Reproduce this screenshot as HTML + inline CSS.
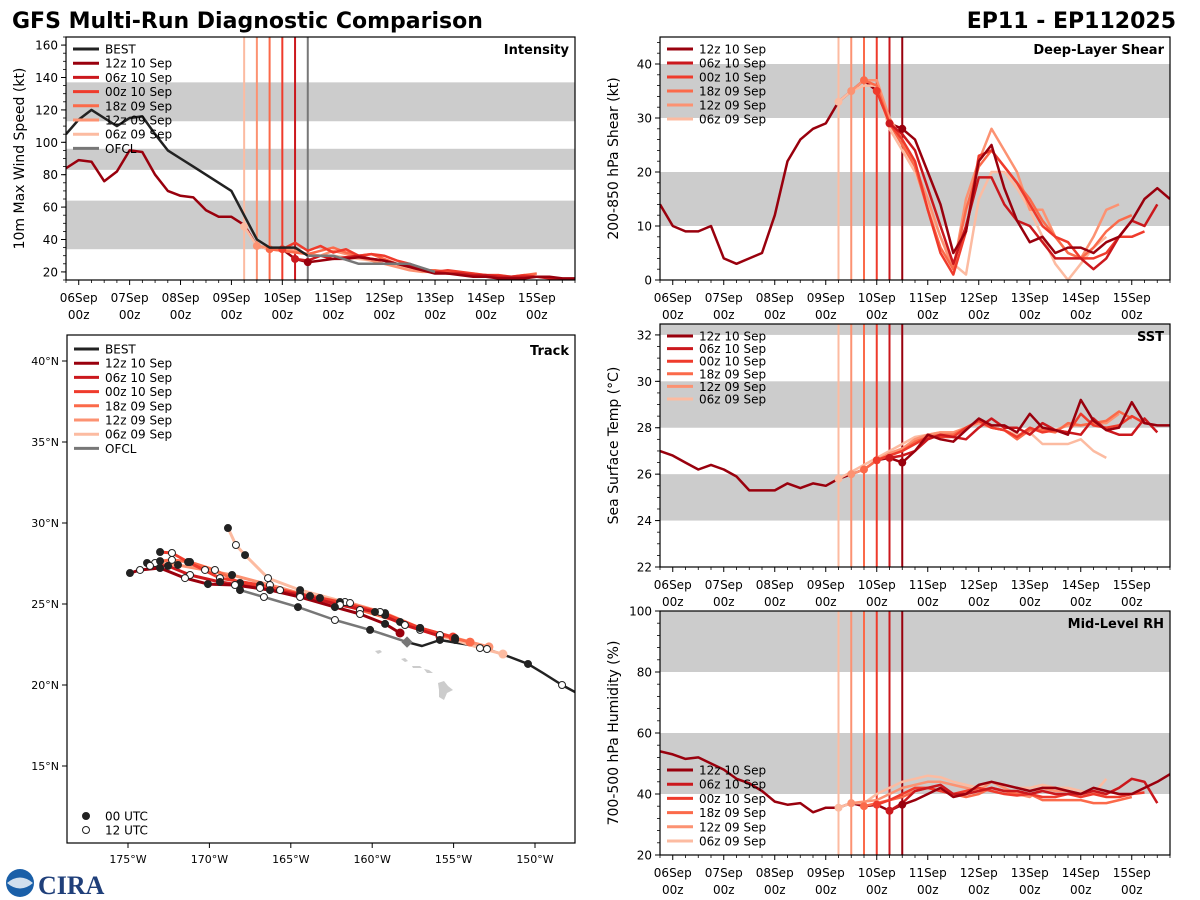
<!DOCTYPE html>
<html><head><meta charset="utf-8"><style>
body{margin:0;background:#fff;}
svg{display:block;font-family:"DejaVu Sans","Liberation Sans",sans-serif;}
</style></head><body>
<svg id="fig" width="1200" height="900" viewBox="0 0 1200 900">
<text x="12" y="28" font-size="22" font-weight="bold">GFS Multi-Run Diagnostic Comparison</text>
<text x="1176" y="28" font-size="22" font-weight="bold" text-anchor="end">EP11 - EP112025</text>
<g>
<circle cx="20" cy="883" r="14" fill="#1a5fa8"/>
<path d="M7 883 Q20 872 33 883 Q20 894 7 883Z" fill="#fff" opacity="0.8"/>
<text x="38" y="894" font-size="26" font-weight="bold" fill="#1f3f7a" font-family="Liberation Serif,serif">CIRA</text>
</g>
</svg>
<script>
// ---------- shared time data ----------
const runNames = ["06z 09 Sep","12z 09 Sep","18z 09 Sep","00z 10 Sep","06z 10 Sep","12z 10 Sep"];
const runInit = [3.25,3.5,3.75,4.0,4.25,4.5]; // days since 06Sep 00z
const runColors = ["#fcbba1","#fc9272","#fb6a4a","#ef3b2c","#cb181d","#99000d"];
const dayLabels = ["06Sep","07Sep","08Sep","09Sep","10Sep","11Sep","12Sep","13Sep","14Sep","15Sep"];
const histStart = -0.25;
const step = 0.25;

// ---------- intensity ----------
const bestInt = [105,114,120,115,110,115,116,105,95,90,85,80,75,70,55,40,35,35,35,30];
const ofclTimes = [4.5,5.0,5.5,6.0,6.5,7.0];
const ofclInt = [30,30,25,25,25,20];
const histInt = [84,89,88,76,82,95,94,80,70,67,66,58,54,54,49,36,34,34,28,26];
const runInt = [
 [48,36,34,33,32,31,30,30,29,28,27,25,24,22,21,20,20,19,19,18,18,17],
 [36,35,34,33,31,30,33,31,29,27,25,23,21,20,20,19,19,18,18,17,17,17],
 [34,33,32,31,33,35,32,30,31,28,25,23,21,21,20,19,18,18,17,17,18,19],
 [34,38,33,36,32,34,30,31,30,27,25,22,20,21,20,19,18,18,17,18,17,17],
 [28,27,30,28,29,30,28,27,25,24,22,20,19,19,18,18,17,17,17,17,16,16],
 [26,27,28,28,29,28,27,25,23,21,19,19,18,17,17,16,16,16,17,17,16,16]];
const intTicks = [20,40,60,80,100,120,140,160];
const intBands = [[34,64],[83,96],[113,137]];

// ---------- shear ----------
const histShr = [14,10,9,9,10,4,3,4,5,12,22,26,28,29,33,35,37,35,29,28];
const runShr = [
 [33,35,36,36,28,24,20,14,8,3,1,15,20,20,17,13,8,3,0,3,6,8],
 [35,37,37,30,26,21,15,8,2,15,22,28,24,20,13,13,8,5,4,8,13,14],
 [37,36,29,25,21,13,6,2,13,21,24,21,18,15,11,8,5,4,6,9,11,12],
 [35,29,26,22,13,5,1,9,23,24,21,18,14,10,8,7,4,4,5,8,8,9],
 [29,27,24,17,10,3,10,19,19,14,11,10,7,4,4,4,2,4,8,11,10,14],
 [28,26,20,14,5,9,22,25,17,11,7,8,5,6,6,5,7,8,11,15,17,15]];
const shrTicks = [0,10,20,30,40];
const shrBands = [[10,20],[30,40]];

// ---------- SST ----------
const histSst = [27.0,26.8,26.5,26.2,26.4,26.2,25.9,25.3,25.3,25.3,25.6,25.4,25.6,25.5,25.8,26.0,26.2,26.6,26.7,26.5];
const runSst = [
 [25.8,26.1,26.4,26.7,27.0,27.3,27.6,27.7,27.8,27.8,28.0,28.3,28.0,27.9,27.7,27.8,27.3,27.3,27.3,27.5,27.0,26.7],
 [26.0,26.2,26.6,26.9,27.1,27.5,27.7,27.8,27.8,28.0,28.2,28.0,27.9,27.6,27.9,28.0,27.9,28.1,28.1,28.2,28.2,28.6],
 [26.2,26.6,26.8,27.0,27.4,27.6,27.7,27.7,28.0,28.3,28.0,27.9,27.5,27.9,27.9,27.8,28.2,28.1,28.2,28.3,28.7,28.4],
 [26.6,26.8,27.0,27.3,27.6,27.6,27.6,28.0,28.3,28.0,27.9,27.6,28.0,27.8,27.9,27.8,28.6,28.1,28.0,28.1,28.5,28.2],
 [26.7,26.8,27.0,27.5,27.7,27.6,27.5,28.0,28.4,28.0,28.0,27.7,28.2,27.9,27.8,27.7,28.4,27.9,27.7,27.7,28.4,27.8],
 [26.5,27.0,27.7,27.5,27.4,27.9,28.4,28.1,28.1,27.8,28.6,28.0,27.9,27.7,29.2,28.3,27.9,28.0,29.1,28.2,28.1,28.1]];
const sstTicks = [22,24,26,28,30,32];
const sstBands = [[24,26],[28,30],[32,33]];

// ---------- RH ----------
const histRh = [54,53,51.5,52,50,48,45,43.5,41,37.5,36.5,37,34,35.5,35.5,37,36,36.5,34.5,36.5];
const runRh = [
 [35.5,37,37,40,42,44,45,46,45.5,44,43,42,44,43,42,42,43,42,42,41,40,45],
 [37,37.5,38,40,42,43,44,44,43,42,41,44,42,40,39,42,41,41,40,40,40,42],
 [36,37,38,39,41,42,41,40,39,40,42,41,40,40,38,38,38,38,37,37,38,39],
 [36.5,38,40,42,42,41,40,41,42,41,40,39.5,40,39,39,40,39,40,39,39,40,40.5],
 [34.5,37,41,42,43,40,40,41,42,41,41,40,41,40,40,40,41,40,42,45,44,37],
 [36.5,38,40,42,39,40,43,44,43,42,41,42,42,41,40,42,41,40,40,42,44,46.5]];
const rhTicks = [20,40,60,80,100];
const rhBands = [[40,60],[80,100]];

// ---------- track (lon, lat) ----------
const bestLon = [-147.54,-148.34,-149.51,-150.43,-151.54,-152.95,-153.99,-155.84,-156.94,-157.86];
const bestLat = [19.57,20.0,20.74,21.30,21.73,22.22,22.47,22.78,22.41,22.65];
const ofclLon = [-157.86,-160.13,-162.29,-164.56,-166.65,-168.12];
const ofclLat = [22.65,23.40,24.01,24.81,25.43,25.86];
const trkLon = [
 [-151.97,-153.38,-154.91,-157.06,-159.21,-161.67,-164.43,-166.40,-167.81,-168.37,-168.86],
 [-152.83,-154.91,-157.06,-159.21,-161.36,-163.82,-166.28,-168.61,-170.27,-171.93,-173.34,-173.83],
 [-153.99,-155.84,-158.29,-160.75,-163.21,-165.66,-168.12,-169.66,-171.19,-172.30,-173.03],
 [-155.04,-157.06,-159.52,-161.98,-164.43,-166.89,-169.35,-171.31,-172.30,-173.03],
 [-155.84,-157.99,-159.83,-161.98,-164.43,-166.89,-169.35,-171.19,-172.54,-173.65],
 [-158.29,-159.21,-160.75,-162.29,-164.43,-166.28,-168.43,-170.09,-171.50,-173.03,-174.26,-174.88]];
const trkLat = [
 [21.91,22.28,22.78,23.40,24.32,25.12,25.86,26.60,28.02,28.64,29.69],
 [22.35,22.90,23.52,24.44,25.06,25.49,26.17,26.79,27.10,27.41,27.53,27.53],
 [22.65,23.09,23.89,24.63,25.37,25.86,26.30,27.10,27.59,27.72,27.65],
 [22.96,23.52,24.51,25.12,25.62,26.17,26.60,27.59,28.15,28.21],
 [23.02,23.70,24.51,24.94,25.56,25.99,26.36,26.79,27.35,27.35],
 [23.21,23.77,24.38,24.81,25.43,25.86,26.17,26.23,26.60,27.22,27.10,26.91]];
const lonTicks = [-175,-170,-165,-160,-155,-150];
const latTicks = [15,20,25,30,35,40];

// ---------- drawing ----------
const NS="http://www.w3.org/2000/svg";
const fig=document.getElementById('fig');
function mk(tag,attrs,parent){const e=document.createElementNS(NS,tag);for(const k in attrs)e.setAttribute(k,attrs[k]);(parent||fig).appendChild(e);return e;}

function timePanel(p){
  const g=mk('g',{});
  
  
  const X=t=>p.x0+(t-(-0.25))/10*(p.x1-p.x0);
  const Y=v=>p.y1-(v-p.ymin)/(p.ymax-p.ymin)*(p.y1-p.y0);
  const cp='clip-'+p.name;
  const cl=mk('clipPath',{id:cp},g);mk('rect',{x:p.x0,y:p.y0,width:p.x1-p.x0,height:p.y1-p.y0},cl);
  const pg=mk('g',{'clip-path':'url(#'+cp+')'},g);
  p.bands.forEach(b=>{const r=mk('rect',{x:p.x0,y:Y(b[1]),width:p.x1-p.x0,height:Y(b[0])-Y(b[1]),fill:'#cccccc'},pg);
    
    });
  runInit.forEach((t,i)=>{const col=(p.ofcl&&i===5)?'#777777':runColors[i];
    const l=mk('line',{x1:X(t),x2:X(t),y1:p.y0,y2:p.y1,stroke:col,'stroke-width':2},pg);
    
    });
  const line=(ts,vs,col,w,nm)=>{const d=vs.map((v,k)=>(k?'L':'M')+X(ts(k)).toFixed(1)+' '+Y(v).toFixed(1)).join('');
    const e=mk('path',{d:d,fill:'none',stroke:col,'stroke-width':w,'stroke-linejoin':'round'},pg);
    
    return e;};
  line(k=>histStart+k*step,p.hist,'#99000d',2.5,'analysis-history');
  p.runs.forEach((r,i)=>{line(k=>runInit[i]+k*step,r,runColors[i],2.5,'run-'+runNames[i].replace(/ /g,'-'));
    const c=mk('circle',{cx:X(runInit[i]),cy:Y(r[0]),r:4,fill:runColors[i]},pg);
    
    });
  if(p.ofcl){
    line(k=>histStart+k*step,bestInt,'#222222',2.5,'best-track-intensity');
    line(k=>ofclTimes[k],ofclInt,'#777777',2.5,'ofcl-intensity');
  }
  mk('rect',{x:p.x0,y:p.y0,width:p.x1-p.x0,height:p.y1-p.y0,fill:'none',stroke:'#000','stroke-width':1.2},g);
  p.ticks.forEach(v=>{mk('line',{x1:p.x0-5,x2:p.x0,y1:Y(v),y2:Y(v),stroke:'#000'},g);
    const t=mk('text',{x:p.x0-8,y:Y(v)+4.5,'font-size':12,'text-anchor':'end'},g);t.textContent=v;
    
    });
  for(let v=p.ymin;v<=p.ymax;v+=p.minor){if(v<p.ymin)continue;mk('line',{x1:p.x0-3,x2:p.x0,y1:Y(v),y2:Y(v),stroke:'#000','stroke-width':0.8},g);}
  for(let t=-0.25;t<=9.76;t+=0.25){const maj=Math.abs(t-Math.round(t))<1e-6;
    mk('line',{x1:X(t),x2:X(t),y1:p.y1,y2:p.y1+(maj?5:3),stroke:'#000','stroke-width':maj?1:0.8},g);}
  dayLabels.forEach((s,i)=>{const t1=mk('text',{x:X(i),y:p.y1+22,'font-size':12,'text-anchor':'middle'},g);t1.textContent=s;
    
    
    const t2=mk('text',{x:X(i),y:p.y1+39,'font-size':12,'text-anchor':'middle'},g);t2.textContent='00z';
    
    });
  const yl=mk('text',{x:0,y:0,'font-size':14,'text-anchor':'middle',transform:`translate(${p.x0-42},${(p.y0+p.y1)/2}) rotate(-90)`},g);
  yl.textContent=p.ylabel;
  
  
  const tt=mk('text',{x:p.x1-6,y:p.y0+17,'font-size':13,'font-weight':'bold','text-anchor':'end'},g);tt.textContent=p.title;
  
  
  const items=[];
  if(p.ofcl)items.push(['BEST','#222222']);
  for(let i=5;i>=0;i--)items.push([runNames[i],runColors[i]]);
  if(p.ofcl)items.push(['OFCL','#777777']);
  items.forEach((it,k)=>{const y=p.legY+k*p.legDy;
    const lg=mk('g',{},g);
    
    
    mk('line',{x1:p.x0+7,x2:p.x0+33,y1:y,y2:y,stroke:it[1],'stroke-width':3},lg);
    const t=mk('text',{x:p.x0+39,y:y+4.5,'font-size':12},lg);t.textContent=it[0];});
}

timePanel({name:'intensity-panel',x0:66,x1:575,y0:37,y1:280,ymin:15,ymax:165,ticks:intTicks,minor:5,bands:intBands,hist:histInt,runs:runInt,ofcl:true,ylabel:'10m Max Wind Speed (kt)',title:'Intensity',legY:49,legDy:14.2});
timePanel({name:'shear-panel',x0:660,x1:1170,y0:37,y1:280,ymin:0,ymax:45,ticks:shrTicks,minor:2,bands:shrBands,hist:histShr,runs:runShr,ofcl:false,ylabel:'200-850 hPa Shear (kt)',title:'Deep-Layer Shear',legY:49,legDy:14});
timePanel({name:'sst-panel',x0:660,x1:1170,y0:324,y1:567,ymin:22,ymax:32.47,ticks:sstTicks,minor:0.5,bands:sstBands,hist:histSst,runs:runSst,ofcl:false,ylabel:'Sea Surface Temp (°C)',title:'SST',legY:336,legDy:12.6});
timePanel({name:'rh-panel',x0:660,x1:1170,y0:611,y1:855,ymin:20,ymax:100,ticks:rhTicks,minor:4,bands:rhBands,hist:histRh,runs:runRh,ofcl:false,ylabel:'700-500 hPa Humidity (%)',title:'Mid-Level RH',legY:770,legDy:14.2});

(function(){
  const x0=67,x1=575,y0=335,y1=843;
  const X=lon=>128+(lon+175)*16.28, Y=lat=>361-(lat-40)*16.2;
  const g=mk('g',{});
  
  
  const cl=mk('clipPath',{id:'clip-track'},g);mk('rect',{x:x0,y:y0,width:x1-x0,height:y1-y0},cl);
  const pg=mk('g',{'clip-path':'url(#clip-track)'},g);
  const isl=mk('g',{fill:'#cccccc'},pg);
  
  
  mk('path',{d:'M375 651 l5 -1 l2 2 l-4 2z'},isl);
  mk('path',{d:'M401 659 l4 -1 l3 3 l-3 1z'},isl);
  mk('path',{d:'M412 666 l8 0 l2 2 l-9 0z'},isl);
  mk('path',{d:'M424 669 l5 1 l4 3 l-6 0z'},isl);
  mk('path',{d:'M438 683 l6 -2 l4 5 l5 4 l-6 3 l-3 7 l-5 -3 l0 -7z'},isl);
  const path=(lons,lats,col,w,nm)=>{const d=lons.map((v,k)=>(k?'L':'M')+X(v).toFixed(1)+' '+Y(lats[k]).toFixed(1)).join('');
    const e=mk('path',{d:d,fill:'none',stroke:col,'stroke-width':w,'stroke-linejoin':'round'},pg);
    
    };
  const dots=(lons,lats,start)=>{lons.forEach((v,k)=>{if(k===0)return;const filled=(k+start)%2===0;
    const c=mk('circle',{cx:X(v),cy:Y(lats[k]),r:3.5,fill:filled?'#222':'#fff',stroke:'#222','stroke-width':1},pg);
    
    });};
  path(bestLon,bestLat,'#222222',2.5,'best-track');
  path(ofclLon,ofclLat,'#777777',2.5,'ofcl-track');
  for(let i=0;i<6;i++)path(trkLon[i],trkLat[i],runColors[i],3,'track-run-'+runNames[i].replace(/ /g,'-'));
  for(let i=0;i<6;i++){const c=mk('circle',{cx:X(trkLon[i][0]),cy:Y(trkLat[i][0]),r:4.5,fill:runColors[i]},pg);
    
    }
  for(let i=0;i<6;i++)dots(trkLon[i],trkLat[i],i%2);
  dots(ofclLon,ofclLat,1);
  [1,3,5,7].forEach(k=>{const c=mk('circle',{cx:X(bestLon[k]),cy:Y(bestLat[k]),r:3.5,fill:k%4===1?'#fff':'#222',stroke:'#222'},pg);
    
    });
  const dm=mk('rect',{x:X(ofclLon[0])-4,y:Y(ofclLat[0])-4,width:8,height:8,fill:'#777',transform:`rotate(45 ${X(ofclLon[0])} ${Y(ofclLat[0])})`},pg);
  
  
  mk('rect',{x:x0,y:y0,width:x1-x0,height:y1-y0,fill:'none',stroke:'#000','stroke-width':1.2},g);
  latTicks.forEach(v=>{mk('line',{x1:x0-5,x2:x0,y1:Y(v),y2:Y(v),stroke:'#000'},g);
    const t=mk('text',{x:x0-8,y:Y(v)+4,'font-size':11,'text-anchor':'end'},g);t.textContent=v+'°N';
    
    });
  lonTicks.forEach(v=>{mk('line',{x1:X(v),x2:X(v),y1:y1,y2:y1+5,stroke:'#000'},g);
    const t=mk('text',{x:X(v),y:y1+20,'font-size':11,'text-anchor':'middle'},g);t.textContent=(-v)+'°W';
    
    });
  const tt=mk('text',{x:x1-6,y:y0+20,'font-size':13,'font-weight':'bold','text-anchor':'end'},g);tt.textContent='Track';
  
  
  const items=[['BEST','#222222']];for(let i=5;i>=0;i--)items.push([runNames[i],runColors[i]]);items.push(['OFCL','#777777']);
  items.forEach((it,k)=>{const y=349+k*14.2;const lg=mk('g',{},g);
    
    
    mk('line',{x1:74,x2:99,y1:y,y2:y,stroke:it[1],'stroke-width':3},lg);
    const t=mk('text',{x:105,y:y+4.5,'font-size':12},lg);t.textContent=it[0];});
  [['00 UTC','#222'],['12 UTC','#fff']].forEach((it,k)=>{const y=816+k*14;const lg=mk('g',{},g);
    
    
    mk('circle',{cx:86,cy:y,r:3.5,fill:it[1],stroke:'#222'},lg);
    const t=mk('text',{x:105,y:y+4.5,'font-size':12},lg);t.textContent=it[0];});
})();
</script>
</body></html>
